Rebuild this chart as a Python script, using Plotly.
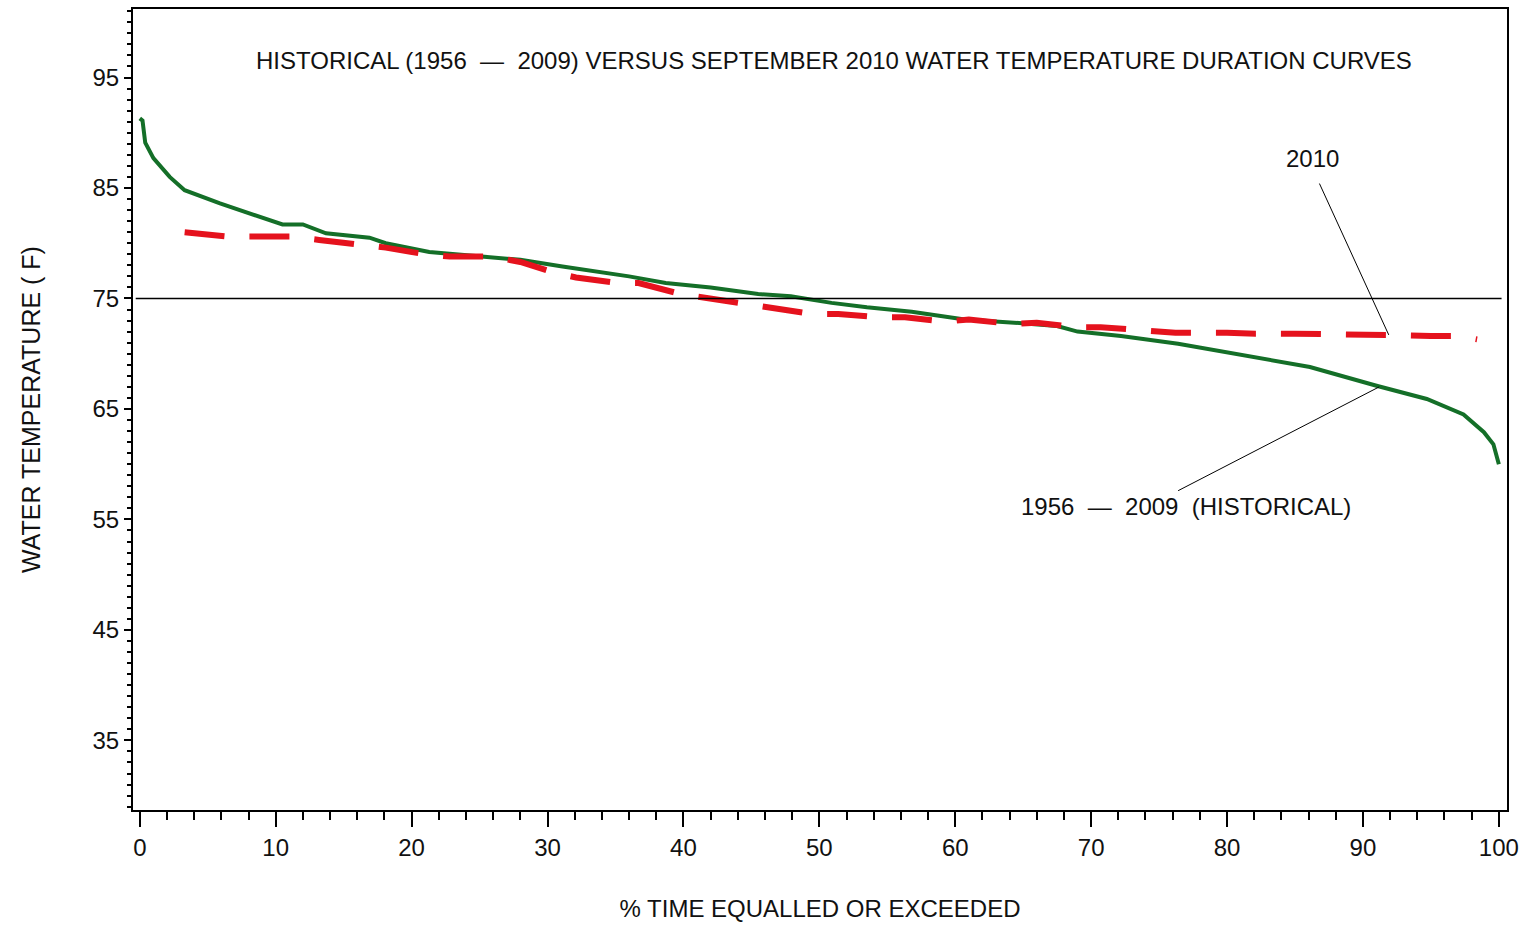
import plotly.graph_objects as go

# ---- data ----
hist_x = [0, 0.2, 0.4, 1.0, 2.2, 3.3, 5.9, 7.3, 10.5, 12.0, 13.7, 16.9, 18.1, 21.3, 26.2, 28.0,
          31.1, 33.8, 36.0, 38.7, 42.0, 45.5, 47.9, 50.9, 53.5, 56.8, 60.7, 65.6, 67.5, 69.0,
          72.2, 76.4, 81.3, 86.1, 91.0, 94.7, 97.4, 98.9, 99.6, 100]
hist_y = [91.3, 91.1, 89.1, 87.7, 86.0, 84.8, 83.6, 83.0, 81.7, 81.7, 80.9, 80.5, 80.0, 79.2, 78.7, 78.5,
          77.9, 77.4, 77.0, 76.4, 76.0, 75.4, 75.2, 74.6, 74.2, 73.8, 73.1, 72.7, 72.5, 72.0,
          71.6, 70.9, 69.8, 68.8, 67.1, 65.9, 64.5, 62.9, 61.8, 60.0]

y2010_x = [3.3, 6.5, 8.2, 11.2, 13.2, 16.1, 18.1, 21.0, 22.8, 25.9, 28.0, 30.6, 32.1, 35.1, 36.7,
           39.8, 42.6, 45.4, 46.4, 49.4, 51.4, 54.3, 56.3, 59.3, 61.0, 64.1, 66.0, 69.0, 70.7,
           74.4, 76.2, 80.0, 82.1, 85.0, 86.9, 90.0, 91.9, 95.0, 97.0, 98.4]
y2010_y = [81.0, 80.6, 80.6, 80.6, 80.3, 79.9, 79.6, 79.0, 78.8, 78.8, 78.3, 77.3, 76.9, 76.4, 76.4,
           75.4, 74.9, 74.3, 74.2, 73.6, 73.6, 73.3, 73.3, 72.9, 73.1, 72.7, 72.8, 72.4, 72.4,
           72.0, 71.9, 71.9, 71.8, 71.8, 71.8, 71.8, 71.7, 71.6, 71.6, 71.3]

threshold = 75
x_ticks = [0, 10, 20, 30, 40, 50, 60, 70, 80, 90, 100]
y_ticks = [35, 45, 55, 65, 75, 85, 95]

title_text = "HISTORICAL (1956  \u2014  2009) VERSUS SEPTEMBER 2010 WATER TEMPERATURE DURATION CURVES"
label_2010 = "2010"
label_hist = "1956  \u2014  2009  (HISTORICAL)"

FONT = "Liberation Sans, Arial, sans-serif"

fig = go.Figure()
fig.add_trace(go.Scatter(x=hist_x, y=hist_y, mode="lines",
                         line=dict(color="#146f28", width=4), name="1956-2009"))
fig.add_trace(go.Scatter(x=y2010_x, y=y2010_y, mode="lines",
                         line=dict(color="#e5121d", width=6, dash="40px,25px"), name="2010"))

# reference line
fig.add_shape(type="line", x0=-0.3, x1=100.2, y0=threshold, y1=threshold,
              line=dict(color="black", width=1.5), xref="x", yref="y")

# leader lines
fig.add_shape(type="line", x0=86.8, y0=85.4, x1=91.9, y1=71.7,
              line=dict(color="black", width=1), xref="x", yref="y")
fig.add_shape(type="line", x0=76.4, y0=57.6, x1=91.2, y1=67.0,
              line=dict(color="black", width=1), xref="x", yref="y")

fig.add_annotation(x=51.1, y=96.5, text=title_text, showarrow=False,
                   font=dict(family=FONT, size=24, color="#111"))
fig.add_annotation(x=86.3, y=87.7, text=label_2010, showarrow=False,
                   font=dict(family=FONT, size=24, color="#111"))
fig.add_annotation(x=77.0, y=56.2, text=label_hist, showarrow=False,
                   font=dict(family=FONT, size=24, color="#111"))

fig.update_layout(
    width=1526, height=926,
    margin=dict(l=133, r=17, t=7, b=116),
    paper_bgcolor="white", plot_bgcolor="white",
    showlegend=False,
    font=dict(family=FONT, size=24, color="#111"),
)
fig.update_xaxes(range=[-0.5, 100.6], tickvals=x_ticks, ticks="outside", ticklen=15, tickwidth=2,
                 tickcolor="black", showline=True, linecolor="black", linewidth=2, mirror=True,
                 showgrid=False, zeroline=False,
                 minor=dict(dtick=2, tick0=0, ticks="outside", ticklen=8, tickwidth=2, tickcolor="black"),
                 title=dict(text="% TIME EQUALLED OR EXCEEDED", standoff=40, font=dict(size=24)),
                 tickfont=dict(size=24))
fig.update_yaxes(range=[28.7, 101.2], tickvals=y_ticks, ticks="outside", ticklen=7, tickwidth=2,
                 tickcolor="black", showline=True, linecolor="black", linewidth=2, mirror=True,
                 showgrid=False, zeroline=False,
                 minor=dict(dtick=1, tick0=35, ticks="outside", ticklen=4, tickwidth=2, tickcolor="black"),
                 title=dict(text="WATER TEMPERATURE ( F)", standoff=45, font=dict(size=25)),
                 tickfont=dict(size=24))

fig.write_html("out.html", config={"displayModeBar": False},
               post_script="document.body.style.margin='0';")
